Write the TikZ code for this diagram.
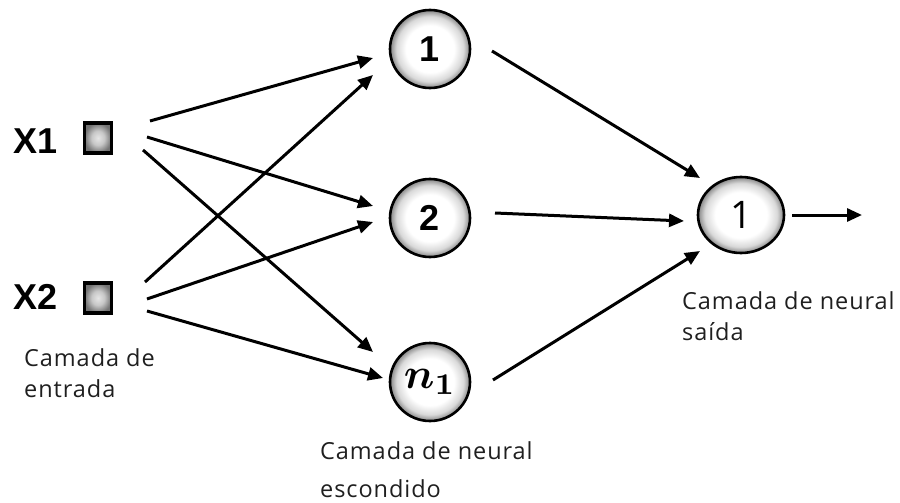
\documentclass[tikz,border=0pt]{standalone}
\usepackage{fontspec}
\usepackage{bm}
\usepackage{graphicx}
\setmainfont{Liberation Sans}
\newfontfamily\labelfont[LetterSpace=4]{Open Sans}
\newfontfamily\outfont{Open Sans}
\usetikzlibrary{arrows.meta,calc,shapes.geometric}
\pgfdeclareradialshading{ballshade}{\pgfpoint{0bp}{0bp}}{color(0bp)=(white); color(15bp)=(white); color(21bp)=(black!15); color(25bp)=(black!48); color(50bp)=(black!48)}
\pgfdeclareradialshading{boxshade}{\pgfpoint{0bp}{0bp}}{color(0bp)=(black!10); color(12bp)=(black!22); color(25bp)=(black!55); color(50bp)=(black!58)}
\begin{document}
\begin{tikzpicture}[x=1pt,y=-1pt,
  inbox/.style={draw=black,line width=3.4pt,shading=boxshade,minimum width=27pt,minimum height=30pt,inner sep=0pt},
  neuron/.style={ellipse,draw=black,line width=2.6pt,shading=ballshade,minimum width=80pt,minimum height=78pt,inner sep=0pt},
  outneuron/.style={ellipse,draw=black,line width=2.6pt,shading=ballshade,minimum width=86pt,minimum height=76pt,inner sep=0pt},
  inlabel/.style={font=\fontsize{36}{36}\selectfont\bfseries,inner sep=0pt},
  numlabel/.style={font=\fontsize{36}{36}\selectfont\bfseries},
  caption/.style={font=\labelfont\fontsize{23.5}{31}\selectfont,color=black!88,align=left,inner sep=0pt,anchor=base west},
  arr/.style={line width=3pt,-{Triangle[length=15pt,width=13pt]}}
]
\useasboundingbox (0,0) rectangle (900,503);
% inputs
\node[inlabel] (t1) at (36,141) {X1};
\node[inlabel] (t2) at (36,297) {X2};
\node[inbox] (x1) at (98,138) {};
\node[inbox] (x2) at (98,298) {};
% hidden
\node[neuron,numlabel] (h1) at (430,49) {1};
\node[neuron,numlabel] (h2) at (430,218) {2};
\node[neuron] (h3) at (430,382) {\scalebox{4.3}{$\bm{n_1}$}};
% output
\node[outneuron,font=\outfont\fontsize{38}{38}\selectfont] (o) at (741,215) {1};
\coordinate (oend) at (862,215);
% captions (anchored at the baseline of the last line)
\node[caption] (c1) at (24,397) {Camada de\\entrada};
\node[caption] (c2) at (320,497) {Camada de neural\\[7pt]escondido};
\node[caption] (c3) at (682,340) {Camada de neural\\saída};
% connectors input -> hidden
\draw[arr] ($(x1)+(52,-17)$) -- ($(h1)+(-57,9)$);
\draw[arr] ($(x1)+(49,-1)$) -- ($(h2)+(-57,-12)$);
\draw[arr] ($(x1)+(45,12)$) -- ($(h3)+(-57,-30)$);
\draw[arr] ($(x2)+(47,-16)$) -- ($(h1)+(-57,26)$);
\draw[arr] ($(x2)+(49,1)$) -- ($(h2)+(-57,4)$);
\draw[arr] ($(x2)+(49,13)$) -- ($(h3)+(-47,-4)$);
% hidden -> output
\draw[arr] ($(h1)+(62,2)$) -- ($(o)+(-41,-37)$);
\draw[arr] ($(h2)+(65,-5)$) -- ($(o)+(-57,6)$);
\draw[arr] ($(h3)+(63,-2)$) -- ($(o)+(-41,36)$);
\draw[arr] (o.east) ++(7,0) -- (oend);
\end{tikzpicture}
\end{document}
